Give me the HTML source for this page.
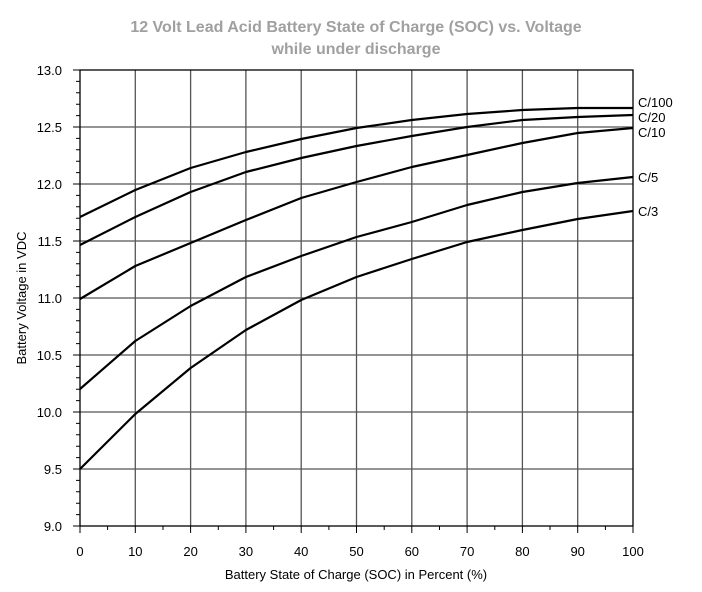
<!DOCTYPE html>
<html><head><style>body{margin:0;background:#fff}</style></head><body>
<svg width="702" height="587" xmlns="http://www.w3.org/2000/svg" font-family="Liberation Sans, sans-serif">
<text x="356" y="32" text-anchor="middle" font-size="16" font-weight="bold" fill="#a0a0a0">12 Volt Lead Acid Battery State of Charge (SOC) vs. Voltage</text>
<text x="356" y="54" text-anchor="middle" font-size="16" font-weight="bold" fill="#a0a0a0">while under discharge</text>
<g stroke="#555" stroke-width="1.3">
<line x1="135.3" y1="70" x2="135.3" y2="526"/><line x1="190.6" y1="70" x2="190.6" y2="526"/><line x1="245.9" y1="70" x2="245.9" y2="526"/><line x1="301.2" y1="70" x2="301.2" y2="526"/><line x1="356.5" y1="70" x2="356.5" y2="526"/><line x1="411.8" y1="70" x2="411.8" y2="526"/><line x1="467.1" y1="70" x2="467.1" y2="526"/><line x1="522.4" y1="70" x2="522.4" y2="526"/><line x1="577.7" y1="70" x2="577.7" y2="526"/>
<line x1="80" y1="127" x2="633" y2="127"/><line x1="80" y1="184" x2="633" y2="184"/><line x1="80" y1="241" x2="633" y2="241"/><line x1="80" y1="298" x2="633" y2="298"/><line x1="80" y1="355" x2="633" y2="355"/><line x1="80" y1="412" x2="633" y2="412"/><line x1="80" y1="469" x2="633" y2="469"/>
</g>
<rect x="80" y="70" width="553" height="456" fill="none" stroke="#000" stroke-width="1.3"/>
<g stroke="#000" stroke-width="1">
<line x1="73" y1="70" x2="80" y2="70"/><line x1="73" y1="127" x2="80" y2="127"/><line x1="73" y1="184" x2="80" y2="184"/><line x1="73" y1="241" x2="80" y2="241"/><line x1="73" y1="298" x2="80" y2="298"/><line x1="73" y1="355" x2="80" y2="355"/><line x1="73" y1="412" x2="80" y2="412"/><line x1="73" y1="469" x2="80" y2="469"/><line x1="73" y1="526" x2="80" y2="526"/>
<path d="M76 81.4H80M76 92.8H80M76 104.2H80M76 115.6H80M76 138.4H80M76 149.8H80M76 161.2H80M76 172.6H80M76 195.4H80M76 206.8H80M76 218.2H80M76 229.6H80M76 252.4H80M76 263.8H80M76 275.2H80M76 286.6H80M76 309.4H80M76 320.8H80M76 332.2H80M76 343.6H80M76 366.4H80M76 377.8H80M76 389.2H80M76 400.6H80M76 423.4H80M76 434.8H80M76 446.2H80M76 457.6H80M76 480.4H80M76 491.8H80M76 503.2H80M76 514.6H80"/>
<path d="M80 526V533M135.3 526V533M190.6 526V533M245.9 526V533M301.2 526V533M356.5 526V533M411.8 526V533M467.1 526V533M522.4 526V533M577.7 526V533M633 526V533"/>
<path d="M107.6 526V530M163 526V530M218.3 526V530M273.6 526V530M328.9 526V530M384.2 526V530M439.5 526V530M494.8 526V530M550 526V530M605.4 526V530"/>
</g>
<g font-size="13" text-anchor="end" fill="#000">
<text x="62" y="75">13.0</text><text x="62" y="132">12.5</text><text x="62" y="189">12.0</text><text x="62" y="246">11.5</text><text x="62" y="303">11.0</text><text x="62" y="360">10.5</text><text x="62" y="417">10.0</text><text x="62" y="474">9.5</text><text x="62" y="531">9.0</text>
</g>
<g font-size="13" text-anchor="middle" fill="#000">
<text x="80" y="556">0</text><text x="135.3" y="556">10</text><text x="190.6" y="556">20</text><text x="245.9" y="556">30</text><text x="301.2" y="556">40</text><text x="356.5" y="556">50</text><text x="411.8" y="556">60</text><text x="467.1" y="556">70</text><text x="522.4" y="556">80</text><text x="577.7" y="556">90</text><text x="633" y="556">100</text>
</g>
<text x="356" y="579" text-anchor="middle" font-size="13">Battery State of Charge (SOC) in Percent (%)</text>
<text transform="translate(26,298) rotate(-90)" text-anchor="middle" font-size="13">Battery Voltage in VDC</text>
<g fill="none" stroke="#000" stroke-width="2.2" stroke-linejoin="round">
<polyline points="80,217 135.3,190 190.6,168 245.9,152 301.2,139 356.5,128 411.8,120 467.1,114 522.4,110 577.7,108 633,108"/>
<polyline points="80,245 135.3,217 190.6,192 245.9,172 301.2,158 356.5,146 411.8,136 467.1,127 522.4,120 577.7,117 633,115"/>
<polyline points="80,299 135.3,266 190.6,243 245.9,220 301.2,198 356.5,182 411.8,167 467.1,155 522.4,143 577.7,133 633,128"/>
<polyline points="80,389 135.3,341 190.6,306 245.9,277 301.2,256 356.5,237 411.8,222 467.1,205 522.4,192 577.7,183 633,177"/>
<polyline points="80,469 135.3,414 190.6,368 245.9,330 301.2,300 356.5,277 411.8,259 467.1,242 522.4,230 577.7,219 633,211"/>
</g>
<g font-size="13">
<text x="638" y="107">C/100</text><text x="638" y="122">C/20</text><text x="638" y="137">C/10</text><text x="638" y="182">C/5</text><text x="638" y="216">C/3</text>
</g>
</svg>
</body></html>
